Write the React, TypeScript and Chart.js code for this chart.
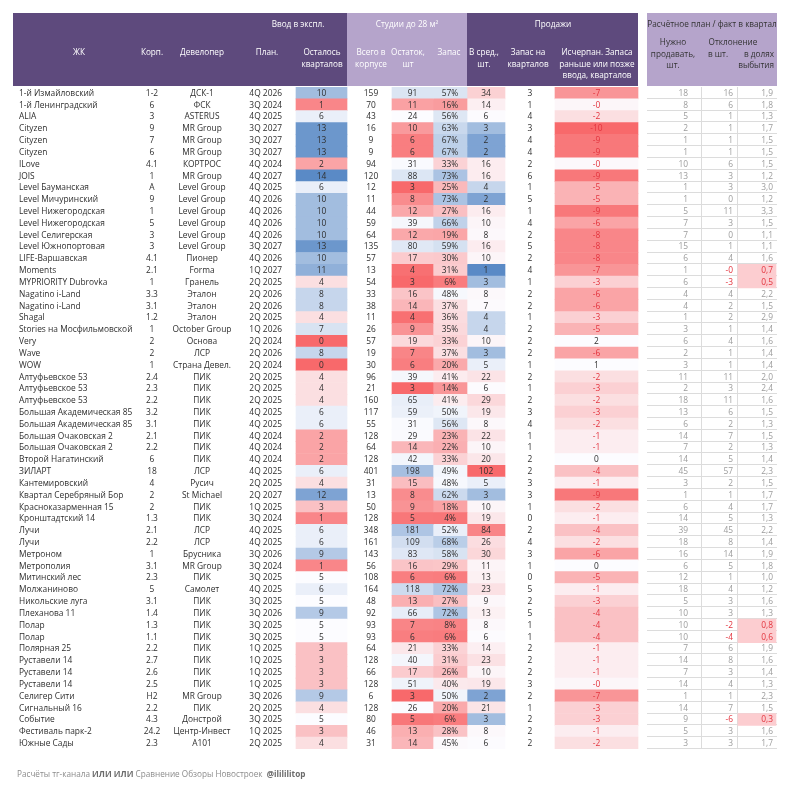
import React, { useEffect, useRef } from 'react';
import { Chart, registerables } from 'chart.js';

Chart.register(...registerables);

// ---------- DATA ----------
const names = [
  '1-й Измайловский', '1-й Ленинградский', 'ALIA', 'Cityzen', 'Cityzen', 'Cityzen', 'ILove', 'JOIS',
  'Level Бауманская', 'Level Мичуринский', 'Level Нижегородская', 'Level Нижегородская', 'Level Селигерская',
  'Level Южнопортовая', 'LIFE-Варшавская', 'Moments', 'MYPRIORITY Dubrovka', 'Nagatino i-Land', 'Nagatino i-Land',
  'Shagal', 'Stories на Мосфильмовской', 'Very', 'Wave', 'WOW', 'Алтуфьевское 53', 'Алтуфьевское 53',
  'Алтуфьевское 53', 'Большая Академическая 85', 'Большая Академическая 85', 'Большая Очаковская 2',
  'Большая Очаковская 2', 'Второй Нагатинский', 'ЗИЛАРТ', 'Кантемировский', 'Квартал Серебряный Бор',
  'Красноказарменная 15', 'Кронштадтский 14', 'Лучи', 'Лучи', 'Метроном', 'Метрополия', 'Митинский лес',
  'Молжаниново', 'Никольские луга', 'Плеханова 11', 'Полар', 'Полар', 'Полярная 25', 'Руставели 14',
  'Руставели 14', 'Руставели 14', 'Селигер Сити', 'Сигнальный 16', 'Событие', 'Фестиваль парк-2', 'Южные Сады',
];
const buildings = [
  '1-2', '6', '3', '9', '7', '6', '4.1', '1', 'A', '9', '1', '5', '3', '3', '4.1', '2.1', '1', '3.3', '3.1', '1.2',
  '1', '2', '2', '1', '2.4', '2.3', '2.2', '3.2', '3.1', '2.1', '2.2', '6', '18', '4', '2', '2', '1.3', '2.1', '2.2',
  '1', '3.1', '2.3', '5', '3.1', '1.4', '1.3', '1.1', '2.2', '2.7', '2.6', '2.5', 'H2', '2.2', '4.3', '24.2', '2.3',
];
const developers = [
  'ДСК-1', 'ФСК', 'ASTERUS', 'MR Group', 'MR Group', 'MR Group', 'КОРТРОС', 'MR Group', 'Level Group',
  'Level Group', 'Level Group', 'Level Group', 'Level Group', 'Level Group', 'Пионер', 'Forma', 'Гранель',
  'Эталон', 'Эталон', 'Эталон', 'October Group', 'Основа', 'ЛСР', 'Страна Девел.', 'ПИК', 'ПИК', 'ПИК', 'ПИК',
  'ПИК', 'ПИК', 'ПИК', 'ПИК', 'ЛСР', 'Русич', 'St Michael', 'ПИК', 'ПИК', 'ЛСР', 'ЛСР', 'Брусника', 'MR Group',
  'ПИК', 'Самолет', 'ПИК', 'ПИК', 'ПИК', 'ПИК', 'ПИК', 'ПИК', 'ПИК', 'ПИК', 'MR Group', 'ПИК', 'Донстрой',
  'Центр-Инвест', 'А101',
];
const planDates = [
  '4Q 2026', '3Q 2024', '4Q 2025', '3Q 2027', '3Q 2027', '3Q 2027', '4Q 2024', '4Q 2027', '4Q 2025', '4Q 2026',
  '4Q 2026', '4Q 2026', '4Q 2026', '3Q 2027', '4Q 2026', '1Q 2027', '2Q 2025', '2Q 2026', '2Q 2026', '2Q 2025',
  '1Q 2026', '2Q 2024', '2Q 2026', '2Q 2024', '2Q 2025', '2Q 2025', '2Q 2025', '4Q 2025', '4Q 2025', '4Q 2024',
  '4Q 2024', '4Q 2024', '4Q 2025', '2Q 2025', '2Q 2027', '1Q 2025', '3Q 2024', '4Q 2025', '4Q 2025', '3Q 2026',
  '3Q 2024', '3Q 2025', '4Q 2025', '3Q 2025', '3Q 2026', '3Q 2025', '3Q 2025', '1Q 2025', '1Q 2025', '1Q 2025',
  '1Q 2025', '3Q 2026', '2Q 2025', '3Q 2025', '1Q 2025', '2Q 2025',
];
const quartersLeft = [
  10, 1, 6, 13, 13, 13, 2, 14, 6, 10, 10, 10, 10, 13, 10, 11, 4, 8, 8, 4, 7, 0, 8, 0, 4, 4, 4, 6, 6, 2, 2, 2, 6, 4,
  12, 3, 1, 6, 6, 9, 1, 5, 6, 5, 9, 5, 5, 3, 3, 3, 3, 9, 4, 5, 3, 4,
];
const totalStudios = [
  159, 70, 43, 16, 9, 9, 94, 120, 12, 11, 44, 59, 64, 135, 57, 13, 54, 33, 38, 11, 26, 57, 19, 30, 96, 21, 160,
  117, 55, 128, 64, 128, 401, 31, 13, 50, 128, 348, 161, 143, 56, 108, 164, 48, 92, 93, 93, 64, 128, 66, 128, 6,
  128, 80, 46, 31,
];
const studiosLeft = [
  91, 11, 24, 10, 6, 6, 31, 88, 3, 8, 12, 39, 12, 80, 17, 4, 3, 16, 14, 4, 9, 19, 7, 6, 39, 3, 65, 59, 31, 29, 14,
  42, 198, 15, 8, 9, 5, 181, 109, 83, 16, 6, 118, 13, 66, 7, 6, 21, 40, 17, 51, 3, 26, 5, 13, 14,
];
const stockPct = [
  57, 16, 56, 63, 67, 67, 33, 73, 25, 73, 27, 66, 19, 59, 30, 31, 6, 48, 37, 36, 35, 33, 37, 20, 41, 14, 41, 50, 56,
  23, 22, 33, 49, 48, 62, 18, 4, 52, 68, 58, 29, 6, 72, 27, 72, 8, 6, 33, 31, 26, 40, 50, 20, 6, 28, 45,
];
const avgSales = [
  34, 14, 6, 3, 2, 2, 16, 16, 4, 2, 16, 10, 8, 16, 10, 1, 3, 8, 7, 4, 4, 10, 3, 5, 22, 6, 29, 19, 8, 22, 10, 20,
  102, 5, 3, 10, 19, 84, 26, 30, 11, 13, 23, 9, 13, 8, 6, 14, 23, 10, 19, 2, 21, 3, 8, 6,
];
const stockQuarters = [
  3, 1, 4, 3, 4, 4, 2, 6, 1, 5, 1, 4, 2, 5, 2, 4, 1, 2, 2, 1, 2, 2, 2, 1, 2, 1, 2, 3, 4, 1, 1, 2, 2, 3, 3, 1, 0, 2,
  4, 3, 1, 0, 5, 2, 5, 1, 1, 2, 2, 2, 3, 2, 1, 2, 2, 2,
];
const exhaustion = [
  -7, -0.4, -2, -10, -9, -9, -0.3, -9, -5, -5, -9, -6, -8, -8, -8, -7, -3, -6, -6, -3, -5, 2, -6, 1, -2, -3, -2,
  -3, -2, -1, -1, 0, -4, -1, -9, -2, -1, -4, -2, -6, 0, -5, -1, -3, -4, -4, -4, -1, -1, -1, -0.4, -7, -3, -3, -1,
  -2,
];
const needToSell = [
  18, 8, 5, 2, 1, 1, 10, 13, 1, 1, 5, 7, 7, 15, 6, 1, 6, 4, 4, 1, 3, 6, 2, 3, 11, 2, 18, 13, 6, 14, 7, 14, 45, 3,
  1, 6, 14, 39, 18, 16, 6, 12, 18, 5, 10, 10, 10, 7, 14, 7, 14, 1, 14, 9, 5, 3,
];
const deviationUnits = [
  16, 6, 1, 1, 1, 1, 6, 3, 3, 0, 11, 3, 0, 1, 4, -0.3, -3, 4, 2, 2, 1, 4, 1, 1, 11, 3, 11, 6, 2, 7, 2, 5, 57, 2, 1,
  4, 5, 45, 8, 14, 5, 1, 4, 3, 3, -2, -4, 6, 8, 3, 4, 1, 7, -6, 3, 3,
];
const deviationShare = [
  1.9, 1.8, 1.3, 1.7, 1.5, 1.5, 1.5, 1.2, 3.0, 1.2, 3.3, 1.5, 1.1, 1.1, 1.6, 0.7, 0.5, 2.2, 1.5, 2.9, 1.4, 1.6,
  1.4, 1.4, 2.0, 2.4, 1.6, 1.5, 1.3, 1.5, 1.3, 1.4, 2.3, 1.5, 1.7, 1.7, 1.3, 2.2, 1.4, 1.9, 1.8, 1.0, 1.2, 1.6,
  1.3, 0.8, 0.6, 1.9, 1.6, 1.4, 1.3, 2.3, 1.5, 0.3, 1.6, 1.7,
];

const groupTitles = ['Ввод в экспл.', 'Студии до 28 м²', 'Продажи', 'Расчётное план / факт в квартал'];
const columnTitles = [
  ['ЖК'], ['Корп.'], ['Девелопер'], ['План.'], ['Осталось', 'кварталов'], ['Всего в', 'корпусе'],
  ['Остаток,', 'шт'], ['Запас'], ['В сред.,', 'шт.'], ['Запас на', 'кварталов'],
  ['Исчерпан. Запаса', 'раньше или позже', 'ввода, кварталов'],
];
const footerParts = [
  { t: 'Расчёты тг-канала ', b: false },
  { t: 'ИЛИ ИЛИ', b: true },
  { t: ' Сравнение Обзоры Новостроек  ', b: false },
  { t: '@ilililitop', b: true },
];

// ---------- LAYOUT / STYLE ----------
const W = 788;
const H = 800;
const FONT = '"Open Sans", "Noto Sans", sans-serif';
const FS = 8.4;
const DARK = '#5E4A7D';
const LIGHT = '#B5A4CB';
const RED = [248, 105, 107];
const WHITE = [252, 252, 255];
const BLUE = [90, 138, 198];
const TXT = '#2e2e2e';
const GRAY = '#9c9c9c';
const NEG = '#E3343E';

const X = {
  name: 19, korp: 152, dev: 202, plan: 282,
  qL0: 296, qL1: 347, total: 371,
  sl0: 392, sl1: 433, pc0: 433, pc1: 467, av0: 467, av1: 505,
  stockQ: 530, ex0: 555, ex1: 638,
  need: 688, devU: 733, ds0: 738, ds1: 776, devS: 773,
  hdrL: 13, hdrM1: 347, hdrM2: 467, hdrR: 638, rp0: 647, rp1: 777, sep1: 700.5, sep2: 737,
};

function mix(a: number[], b: number[], t: number) {
  const c = Math.max(0, Math.min(1, t));
  return `rgb(${a.map((v, i) => Math.round(v + (b[i] - v) * c)).join(',')})`;
}
function diverge(v: number, min: number, mid: number, max: number, lo: number[], hi: number[]) {
  if (v <= mid) return mix(WHITE, lo, (mid - v) / (mid - min));
  return mix(WHITE, hi, (v - mid) / (max - mid));
}
const span = (a: number, b: number) => names.map(() => [a, b]);

const tablePlugin = {
  id: 'tableText',
  beforeDatasetsDraw(chart: any) {
    const { ctx, chartArea, scales } = chart;
    const x = scales.x;
    const y = scales.y;
    const px = (v: number) => x.getPixelForValue(v);
    const top = chartArea.top;
    const hTop = top - 74;
    const hH = 73;
    ctx.save();
    ctx.fillStyle = DARK;
    ctx.fillRect(px(X.hdrL), hTop, px(X.hdrM1) - px(X.hdrL), hH);
    ctx.fillRect(px(X.hdrM2), hTop, px(X.hdrR) - px(X.hdrM2), hH);
    ctx.fillStyle = LIGHT;
    ctx.fillRect(px(X.hdrM1), hTop, px(X.hdrM2) - px(X.hdrM1), hH);
    ctx.fillRect(px(X.rp0), hTop, px(X.rp1) - px(X.rp0), hH);

    // right panel grid
    const rowH = Math.abs(y.getPixelForValue(1) - y.getPixelForValue(0));
    ctx.strokeStyle = '#dcdcdc';
    ctx.lineWidth = 1;
    names.forEach((_, i) => {
      const yy = Math.round(y.getPixelForValue(i) + rowH / 2) - 0.5;
      ctx.beginPath();
      ctx.moveTo(px(X.rp0), yy);
      ctx.lineTo(px(X.rp1), yy);
      ctx.stroke();
    });
    [X.sep1, X.sep2].forEach((s) => {
      ctx.beginPath();
      ctx.moveTo(Math.round(px(s)) + 0.5, top);
      ctx.lineTo(Math.round(px(s)) + 0.5, chartArea.bottom);
      ctx.stroke();
    });
    ctx.restore();
  },
  afterDatasetsDraw(chart: any) {
    const { ctx, chartArea, scales } = chart;
    const x = scales.x;
    const y = scales.y;
    const px = (v: number) => x.getPixelForValue(v);
    const top = chartArea.top;
    const hTop = top - 74;
    ctx.save();
    ctx.textBaseline = 'middle';
    const text = (s: string, xx: number, yy: number, align: string, color: string, size = FS, bold = false) => {
      ctx.font = `${bold ? 'bold ' : ''}${size}px ${FONT}`;
      ctx.fillStyle = color;
      ctx.textAlign = align;
      ctx.fillText(s, xx, yy);
    };

    // header group titles
    const gy = hTop + 12;
    text(groupTitles[0], px(298), gy, 'center', '#ffffff', 8.2);
    text(groupTitles[1], px(407), gy, 'center', '#ffffff', 8.2);
    text(groupTitles[2], px(553), gy, 'center', '#ffffff', 8.2);
    text(groupTitles[3], px(712), gy, 'center', '#333333', 8.2);

    // column titles
    const colX = [79, X.korp, X.dev, 267, 322, X.total, 408, 449, 484, 528, 597];
    const l1 = hTop + 40;
    const lh = 11.3;
    columnTitles.forEach((lines, ci) => {
      lines.forEach((s, li) => text(s, px(colX[ci]), l1 + li * lh, 'center', '#ffffff', 8.2));
    });
    // right panel titles
    const r0 = hTop + 30;
    text('Нужно', px(673), r0, 'center', '#333333', 8.2);
    text('продавать,', px(673), r0 + lh, 'center', '#333333', 8.2);
    text('шт.', px(673), r0 + 2 * lh, 'center', '#333333', 8.2);
    text('Отклонение', px(733), r0, 'center', '#333333', 8.2);
    text('в шт.', px(718), r0 + lh, 'center', '#333333', 8.2);
    text('в долях', px(774), r0 + lh, 'right', '#333333', 8.2);
    text('выбытия', px(774), r0 + 2 * lh, 'right', '#333333', 8.2);

    // rows
    names.forEach((nm, i) => {
      const yy = y.getPixelForValue(i) + 0.5;
      text(nm, px(X.name), yy, 'left', TXT);
      text(buildings[i], px(X.korp), yy, 'center', TXT);
      text(developers[i], px(X.dev), yy, 'center', TXT);
      text(planDates[i], px(X.plan), yy, 'right', TXT);
      text(String(quartersLeft[i]), px((X.qL0 + X.qL1) / 2), yy, 'center', TXT);
      text(String(totalStudios[i]), px(X.total), yy, 'center', TXT);
      text(String(studiosLeft[i]), px((X.sl0 + X.sl1) / 2), yy, 'center', TXT);
      text(stockPct[i] + '%', px((X.pc0 + X.pc1) / 2), yy, 'center', TXT);
      text(String(avgSales[i]), px((X.av0 + X.av1) / 2), yy, 'center', TXT);
      text(String(stockQuarters[i]), px(X.stockQ), yy, 'center', TXT);
      const ex = exhaustion[i];
      text(ex.toFixed(0), px((X.ex0 + X.ex1) / 2), yy, 'center', ex < 0 ? NEG : TXT);
      text(String(needToSell[i]), px(X.need), yy, 'right', GRAY);
      const du = deviationUnits[i];
      text(du.toFixed(0), px(X.devU), yy, 'right', du < 0 ? NEG : GRAY);
      const ds = deviationShare[i];
      text(ds.toFixed(1).replace('.', ','), px(X.devS), yy, 'right', ds < 1 ? NEG : GRAY);
    });

    // footer
    let fx = px(17);
    const fy = chartArea.bottom + 26;
    footerParts.forEach((p) => {
      ctx.font = `${p.b ? 'bold ' : ''}8.2px ${FONT}`;
      ctx.fillStyle = p.b ? '#6a6a6a' : '#8c8c8c';
      ctx.textAlign = 'left';
      ctx.fillText(p.t, fx, fy);
      fx += ctx.measureText(p.t).width;
    });
    ctx.restore();
  },
};

export default function App() {
  const ref = useRef<HTMLCanvasElement | null>(null);
  useEffect(() => {
    if (!ref.current) return;
    const bar = (range: number[][], colors: string[]) => ({
      data: range,
      backgroundColor: colors,
      borderWidth: 0,
      borderSkipped: false,
      grouped: false,
      barPercentage: 1,
      categoryPercentage: 1,
    });
    const chart = new Chart(ref.current, {
      type: 'bar',
      data: {
        labels: names,
        datasets: [
          bar(span(X.qL0, X.qL1), quartersLeft.map((v) => diverge(v, 0, 5, 14, RED, BLUE))),
          bar(span(X.sl0, X.sl1), studiosLeft.map((v) => diverge(v, 3, 24, 350, RED, BLUE))),
          bar(span(X.pc0, X.pc1), stockPct.map((v) => diverge(v, 0, 46, 100, RED, BLUE))),
          bar(span(X.av0, X.av1), avgSales.map((v) => diverge(v, 1, 5.5, 102, BLUE, RED))),
          bar(span(X.ex0, X.ex1), exhaustion.map((v) => (v < 0 ? mix(WHITE, RED, -v / 10) : 'rgb(252,252,255)'))),
          bar(span(X.ds0, X.ds1), deviationShare.map((v) => (v < 1 ? '#FCCDD0' : 'rgba(0,0,0,0)'))),
        ] as any,
      },
      options: {
        indexAxis: 'y',
        animation: false,
        responsive: false,
        maintainAspectRatio: false,
        layout: { padding: { top: 87, bottom: 51, left: 0, right: 0 } },
        scales: {
          x: { type: 'linear', min: 0, max: W, display: false },
          y: { type: 'category', display: false, offset: true },
        },
        plugins: { legend: { display: false }, tooltip: { enabled: false } },
      } as any,
      plugins: [tablePlugin],
    });
    return () => chart.destroy();
  }, []);
  return (
    <div style={{ position: 'absolute', left: 0, top: 0, width: W, height: H, background: '#ffffff' }}>
      <canvas ref={ref} width={W} height={H} style={{ width: W, height: H, display: 'block' }} />
    </div>
  );
}
